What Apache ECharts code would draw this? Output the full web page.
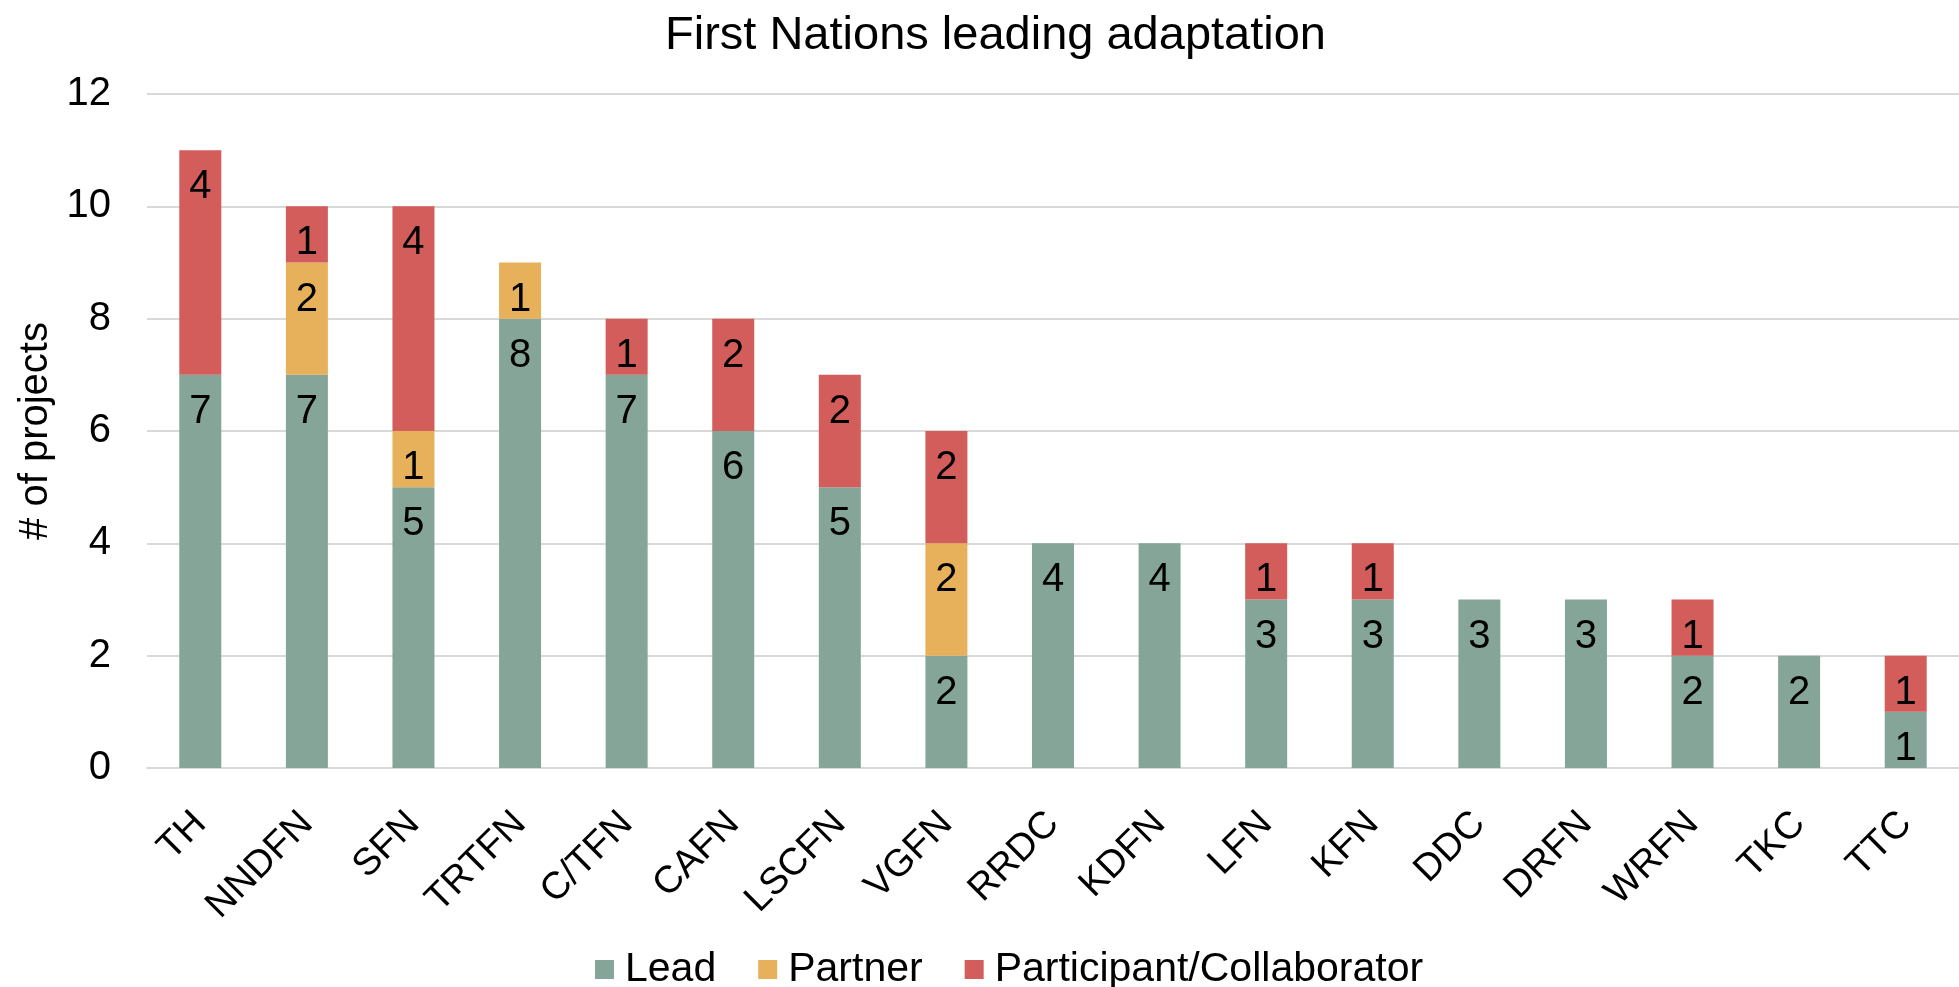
<!DOCTYPE html>
<html>
<head>
<meta charset="utf-8">
<script src="https://cdn.jsdelivr.net/npm/echarts@6/dist/echarts.min.js"></script>
<style>
html,body{margin:0;padding:0;background:#fff;}
#chart{width:1959px;height:987px;}
</style>
</head>
<body>
<div id="chart"></div>
<script>
const categories = ['TH','NNDFN','SFN','TRTFN','C/TFN','CAFN','LSCFN','VGFN','RRDC','KDFN','LFN','KFN','DDC','DRFN','WRFN','TKC','TTC'];
const leadValues = [7,7,5,8,7,6,5,2,4,4,3,3,3,3,2,2,1];
const partnerValues = [0,2,1,1,0,0,0,2,0,0,0,0,0,0,0,0,0];
const participantValues = [4,1,4,0,1,2,2,2,0,0,1,1,0,0,1,0,1];
const yTicks = [0,2,4,6,8,10,12];

const FONT = 'Liberation Sans';
const colors = ['#84A597','#E6B15A','#D25D5A'];

function mkSeries(name, data, color) {
  return {
    name: name,
    type: 'bar',
    stack: 'total',
    data: data,
    barWidth: 42,
    itemStyle: { color: color },
    label: {
      show: true,
      position: 'insideTop',
      distance: 17,
      color: '#000',
      fontFamily: FONT,
      fontSize: 40,
      formatter: p => (p.value ? String(p.value) : '')
    },
    emphasis: { disabled: true }
  };
}

const chart = echarts.init(document.getElementById('chart'));
chart.setOption({
  animation: false,
  backgroundColor: '#fff',
  textStyle: { fontFamily: FONT },
  title: {
    text: 'First Nations leading adaptation',
    left: 660,
    top: 8,
    textStyle: { fontFamily: FONT, fontSize: 47, fontWeight: 'normal', color: '#000' }
  },
  legend: {
    data: ['Lead','Partner','Participant/Collaborator'],
    left: 590,
    top: 944,
    icon: 'rect',
    itemWidth: 19,
    itemHeight: 19,
    itemGap: 42,
    textStyle: { fontFamily: FONT, fontSize: 41, color: '#000', padding: [0, 0, 0, 6] }
  },
  grid: { left: 147, right: -16, top: 94, bottom: 219, containLabel: false },
  xAxis: {
    type: 'category',
    data: categories,
    axisLine: { lineStyle: { color: '#D9D9D9', width: 2 } },
    axisTick: { show: false },
    axisLabel: { rotate: 45, margin: 50, interval: 0, padding: [10, 0, 0, 0], fontFamily: FONT, fontSize: 38, color: '#000' }
  },
  yAxis: {
    type: 'value',
    min: yTicks[0],
    max: yTicks[yTicks.length - 1],
    interval: 2,
    name: '# of projects',
    nameLocation: 'middle',
    nameGap: 86,
    nameTextStyle: { fontFamily: FONT, fontSize: 40, color: '#000' },
    axisLine: { show: false },
    axisTick: { show: false },
    axisLabel: { margin: 36, fontFamily: FONT, fontSize: 40, color: '#000' },
    splitLine: { lineStyle: { color: '#D9D9D9', width: 2 } }
  },
  series: [
    mkSeries('Lead', leadValues, colors[0]),
    mkSeries('Partner', partnerValues, colors[1]),
    mkSeries('Participant/Collaborator', participantValues, colors[2])
  ]
});
</script>
</body>
</html>
